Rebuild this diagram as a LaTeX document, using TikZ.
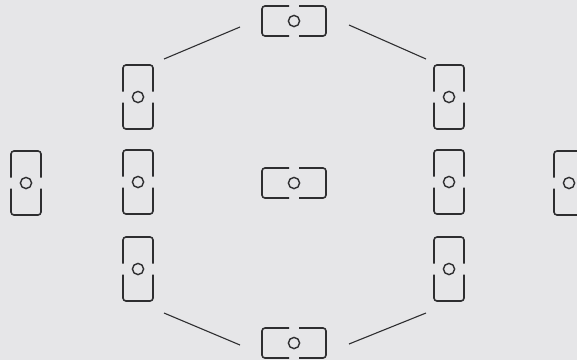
\documentclass[tikz,border=0pt]{standalone}
\definecolor{bg}{HTML}{E6E6E8}
\definecolor{ink}{HTML}{2E2E30}
\begin{document}
\begin{tikzpicture}[x=1pt,y=-1pt,
  hbox/.style={minimum width=64pt,minimum height=30pt,inner sep=0pt,outer sep=0pt,draw=none},
  vbox/.style={minimum width=30pt,minimum height=64pt,inner sep=0pt,outer sep=0pt,draw=none},
  frame/.style={draw=ink,line width=1.6pt,rounded corners=3pt,line cap=butt},
  dot/.style={draw=ink,line width=1.4pt},
  link/.style={draw=ink,line width=1.1pt}]
\fill[bg] (0,0) rectangle (577,360);
\useasboundingbox (0,0) rectangle (577,360);
% horizontal frames
\node[hbox] (t) at (294,21) {};
\node[hbox] (c) at (294,183) {};
\node[hbox] (b) at (294,343) {};
% vertical frames
\node[vbox] (l1) at (138,97) {};
\node[vbox] (l2) at (138,182) {};
\node[vbox] (l3) at (138,269) {};
\node[vbox] (r1) at (449,97) {};
\node[vbox] (r2) at (449,182) {};
\node[vbox] (r3) at (449,269) {};
\node[vbox] (fl) at (26,183) {};
\node[vbox] (fr) at (569,183) {};
\foreach \n in {t,c,b}{
  \draw[frame] ([xshift=-5pt]\n.north) -- (\n.north west) -- (\n.south west) -- ([xshift=-5pt]\n.south);
  \draw[frame] ([xshift=5pt]\n.north) -- (\n.north east) -- (\n.south east) -- ([xshift=5pt]\n.south);
  \draw[dot] (\n.center) circle (5.6pt);
}
\foreach \n in {l1,l2,l3,r1,r2,r3,fl,fr}{
  \draw[frame] ([yshift=5.5pt]\n.west) -- (\n.north west) -- (\n.north east) -- ([yshift=5.5pt]\n.east);
  \draw[frame] ([yshift=-5.5pt]\n.west) -- (\n.south west) -- (\n.south east) -- ([yshift=-5.5pt]\n.east);
  \draw[dot] (\n.center) circle (5.6pt);
}
% connector ends
\coordinate (a1) at (164,59);  \coordinate (a2) at (240,27);
\coordinate (b1) at (349,25);  \coordinate (b2) at (426,59);
\coordinate (c1) at (164,313); \coordinate (c2) at (240,345);
\coordinate (d1) at (349,344); \coordinate (d2) at (426,313);
\draw[link] (a1) -- (a2);
\draw[link] (b1) -- (b2);
\draw[link] (c1) -- (c2);
\draw[link] (d1) -- (d2);
\end{tikzpicture}
\end{document}
